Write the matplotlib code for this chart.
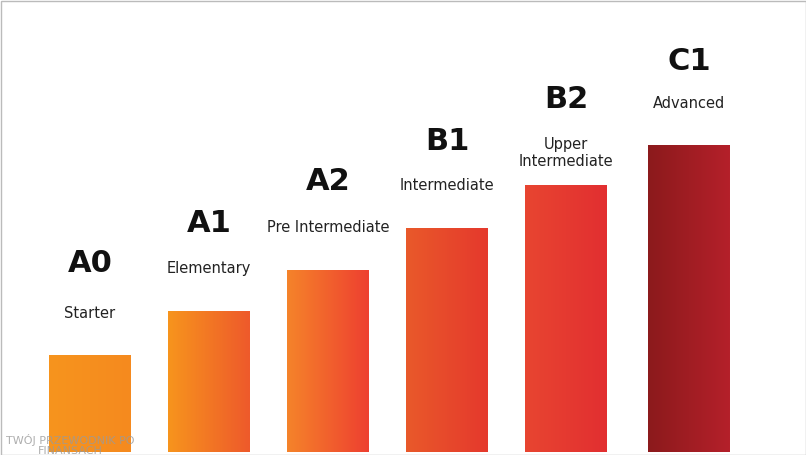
import numpy as np
import matplotlib.pyplot as plt
from matplotlib.colors import LinearSegmentedColormap

codes = ["A0", "A1", "A2", "B1", "B2", "C1"]
names = ["Starter", "Elementary", "Pre Intermediate", "Intermediate",
         "Upper\nIntermediate", "Advanced"]
heights = [97, 141, 182, 224, 267, 307]
left_cols = ["#f7941d", "#f7941d", "#f5832a", "#e9592a", "#e84531", "#8c1a1c"]
right_cols = ["#f58a1f", "#ee5a2b", "#ee4030", "#e5392d", "#e22f30", "#b4202a"]
centers = [90, 209, 328, 447, 566, 689]
code_off = [91, 87, 89, 86, 85, 83]

W, H = 806, 455
base = 3
bw = 82

fig = plt.figure(figsize=(W / 100, H / 100), dpi=100)
ax = fig.add_axes([0, 0, 1, 1])
ax.set_xlim(0, W)
ax.set_ylim(0, H)
ax.axis("off")

grad = np.linspace(0, 1, 64).reshape(1, -1)
for c, h, lc, rc, code, name, co in zip(centers, heights, left_cols, right_cols,
                                         codes, names, code_off):
    cmap = LinearSegmentedColormap.from_list("g", [lc, rc])
    ax.imshow(grad, cmap=cmap, aspect="auto",
              extent=(c - bw / 2, c + bw / 2, base, base + h), zorder=2)
    top = base + h
    sub_off = 32 if "\n" in name else 42
    ax.text(c, top + sub_off, name, ha="center", va="center", fontsize=10.5,
            color="#222222", linespacing=1.2)
    ax.text(c, top + co, code, ha="center", va="center", fontsize=22,
            fontweight="bold", color="#111111")

ax.text(70, 10, "TWÓJ PRZEWODNIK PO\nFINANSACH", ha="center", va="center",
        fontsize=8, color="#9a9a9a", alpha=0.8, linespacing=0.9, zorder=3)

ax.add_patch(plt.Rectangle((0.5, 0.5), W - 1, H - 1, fill=False,
                           edgecolor="#bbbbbb", lw=1, zorder=4))
fig.savefig("out.png", dpi=100)
